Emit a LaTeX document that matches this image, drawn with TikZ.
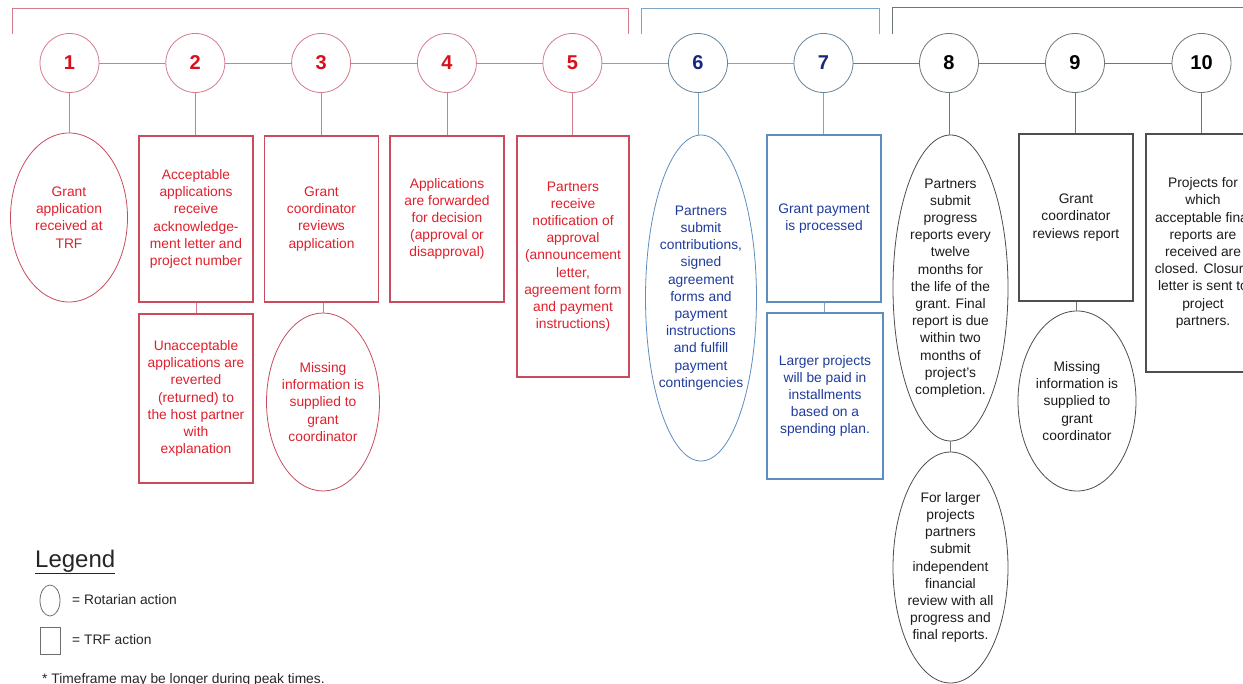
\documentclass[tikz,border=0pt]{standalone}
\usepackage{fontspec}
\setmainfont{Liberation Sans}
\usetikzlibrary{shapes.geometric}

% phase colours
\definecolor{redtxt}{HTML}{E0202C}
\definecolor{rednum}{HTML}{D8101C}
\definecolor{redline}{HTML}{D47C8C}
\definecolor{redframe}{HTML}{C84C5E}
\definecolor{bluetxt}{HTML}{1F3C9C}
\definecolor{bluenum}{HTML}{16287E}
\definecolor{blueline}{HTML}{7EA6C4}
\definecolor{blueframe}{HTML}{5E8EC0}
\definecolor{darktxt}{HTML}{1C1C1C}
\definecolor{darkline}{HTML}{6C7A70}
\definecolor{darkframe}{HTML}{4E4E4E}
\definecolor{legendgray}{HTML}{6E6E6E}

\begin{document}
\begin{tikzpicture}[x=1pt,y=-1pt,
  body/.style={font=\fontsize{13.8}{17.2}\selectfont, align=center, inner sep=0pt},
  stepnum/.style={circle, draw, fill=white, minimum size=59pt, inner sep=0pt,
    line width=0.8pt, font=\fontsize{20}{22}\selectfont\bfseries},
  trf/.style={rectangle, draw, minimum width=114pt, line width=1.1pt, body},
  rot/.style={ellipse, draw, inner sep=0pt, line width=0.8pt},
  redgrp/.style={draw=redframe, text=redtxt},
  bluegrp/.style={draw=blueframe, text=bluetxt},
  darkgrp/.style={draw=darkframe, text=darktxt},
  link/.style={line width=0.8pt},
  legtext/.style={inner sep=0pt, font=\fontsize{13.8}{16}\selectfont, text=black!85},
]
\useasboundingbox (0,0) rectangle (1243,684);
\fill[white] (0,0) rectangle (1243,684);
\clip (0,0) rectangle (1243,684);

% phase brackets
\draw[redline, line width=0.9pt] (12,34) |- (628,8) -- (628,34);
\draw[blueline, line width=0.9pt] (641,34) |- (879,8) -- (879,34);
\draw[darkline, line width=0.9pt] (892,34) |- (1260,7);

% numbered steps
\node[stepnum, draw=redline, text=rednum]   (c1)  at (69.5,63)  {1};
\node[stepnum, draw=redline, text=rednum]   (c2)  at (195.3,63) {2};
\node[stepnum, draw=redline, text=rednum]   (c3)  at (321.1,63) {3};
\node[stepnum, draw=redline, text=rednum]   (c4)  at (446.9,63) {4};
\node[stepnum, draw=redline, text=rednum]   (c5)  at (572.4,63) {5};
\node[stepnum, draw=blueline!80!black, text=bluenum] (c6) at (698,63) {6};
\node[stepnum, draw=blueline!80!black, text=bluenum] (c7) at (823.5,63) {7};
\node[stepnum, draw=darkline, text=black]  (c8)  at (949,63)  {8};
\node[stepnum, draw=darkline, text=black]  (c9)  at (1075,63) {9};
\node[stepnum, draw=darkline, text=black]  (c10) at (1201.5,63) {10};

\draw[link, redline]  (c1) -- (c2);
\draw[link, redline]  (c2) -- (c3);
\draw[link, redline]  (c3) -- (c4);
\draw[link, redline]  (c4) -- (c5);
\draw[link, blueline] (c5) -- (c6);
\draw[link, blueline] (c6) -- (c7);
\draw[link, darkline] (c7) -- (c8);
\draw[link, darkline] (c8) -- (c9);
\draw[link, darkline] (c9) -- (c10);

% step 1
\node[rot, redgrp, minimum width=117pt, minimum height=169pt] (e1) at (69,217.5) {};
\node[body, text=redtxt] (e1t) at (e1) {Grant\\application\\received at\\TRF};

% step 2
\node[trf, redgrp, minimum height=166pt] (b2a) at (196,219)
  {Acceptable\\applications\\receive\\acknowledge-\\ment letter and\\project number};
\node[trf, redgrp, minimum height=169pt] (b2b) at (196,398.5)
  {Unacceptable\\applications are\\reverted\\(returned) to\\the host partner\\with\\explanation};

% step 3
\node[trf, redgrp, minimum height=166pt] (b3) at (321.5,219)
  {Grant\\coordinator\\reviews\\application};
\node[rot, redgrp, minimum width=113pt, minimum height=178pt] (e3) at (323,402) {};
\node[body, text=redtxt] (e3t) at (e3) {Missing\\information is\\supplied to\\grant\\coordinator};

% step 4
\node[trf, redgrp, minimum height=166pt] (b4) at (447,219)
  {Applications\\are forwarded\\for decision\\(approval or\\disapproval)};

% step 5
\node[trf, redgrp, minimum width=112pt, minimum height=241pt] (b5) at (573,256.5)
  {Partners\\receive\\notification of\\approval\\(announcement\\letter,\\agreement form\\and payment\\instructions)};

% step 6
\node[rot, bluegrp, minimum width=111pt, minimum height=326pt] (e6) at (701,298) {};
\node[body, text=bluetxt] (e6t) at (e6) {Partners\\submit\\contributions,\\signed\\agreement\\forms and\\payment\\instructions\\and fulfill\\payment\\contingencies};

% step 7
\node[trf, bluegrp, minimum height=167pt] (b7a) at (824,218.5)
  {Grant payment\\is processed};
\node[trf, bluegrp, minimum width=116pt, minimum height=166pt] (b7b) at (825,396)
  {Larger projects\\will be paid in\\installments\\based on a\\spending plan.};

% step 8
\node[rot, darkgrp, minimum width=115pt, minimum height=306pt] (e8a) at (950.5,288) {};
\node[body, text=darktxt] (e8at) at (e8a) {Partners\\submit\\progress\\reports every\\twelve\\months for\\the life of the\\grant. Final\\report is due\\within two\\months of\\project’s\\completion.};
\node[rot, darkgrp, minimum width=115pt, minimum height=231pt] (e8b) at (950.5,567.5) {};
\node[body, text=darktxt] (e8bt) at (e8b) {For larger\\projects\\partners\\submit\\independent\\financial\\review with all\\progress and\\final reports.};

% step 9
\node[trf, darkgrp, minimum height=167pt] (b9) at (1076,217.5)
  {Grant\\coordinator\\reviews report};
\node[rot, darkgrp, minimum width=118pt, minimum height=180pt] (e9) at (1077,401) {};
\node[body, text=darktxt] (e9t) at (e9) {Missing\\information is\\supplied to\\grant\\coordinator};

% step 10 (runs past the right edge of the sheet)
\node[trf, darkgrp, minimum height=238pt] (b10) at (1203,253)
  {Projects for\\which\\acceptable final\\reports are\\received are\\closed. Closure\\letter is sent to\\project\\partners.};

% stems from each step to its action
\draw[link, redline]  (c1.south) -- (c1.south |- e1.north);
\draw[link, redline]  (c2.south) -- (c2.south |- b2a.north);
\draw[link, redline]  (c3.south) -- (c3.south |- b3.north);
\draw[link, redline]  (c4.south) -- (c4.south |- b4.north);
\draw[link, redline]  (c5.south) -- (c5.south |- b5.north);
\draw[link, blueline] (c6.south) -- (c6.south |- e6.north);
\draw[link, blueline] (c7.south) -- (c7.south |- b7a.north);
\draw[link, darkline] (c8.south) -- (c8.south |- e8a.north);
\draw[link, darkline] (c9.south) -- (c9.south |- b9.north);
\draw[link, darkline] (c10.south) -- (c10.south |- b10.north);

% follow-up links
\draw[link, redline]  (b2a.south) -- (b2b.north);
\draw[link, redline]  (b3.south -| e3.north) -- (e3.north);
\draw[link, blueline] (b7a.south) -- (b7a.south |- b7b.north);
\draw[link, darkline] (e8a.south) -- (e8b.north);
\draw[link, darkline] (b9.south) -- (b9.south |- e9.north);

% legend
\node[anchor=base west, inner sep=0pt, font=\fontsize{24}{28}\selectfont, text=black!85] (legtitle) at (35,567) {\underline{Legend}};
\node[ellipse, draw=legendgray, line width=0.8pt, minimum width=20pt, minimum height=31pt, inner sep=0pt] (legrot) at (50,600.5) {};
\node[legtext, anchor=west] (legrott) at (72,600) {= Rotarian action};
\node[rectangle, draw=legendgray, line width=0.8pt, minimum width=20pt, minimum height=27pt, inner sep=0pt] (legtrf) at (50,640.5) {};
\node[legtext, anchor=west] (legtrft) at (72,640) {= TRF action};
\node[legtext, anchor=base west] (note) at (42,683) {* Timeframe may be longer during peak times.};
\end{tikzpicture}
\end{document}
